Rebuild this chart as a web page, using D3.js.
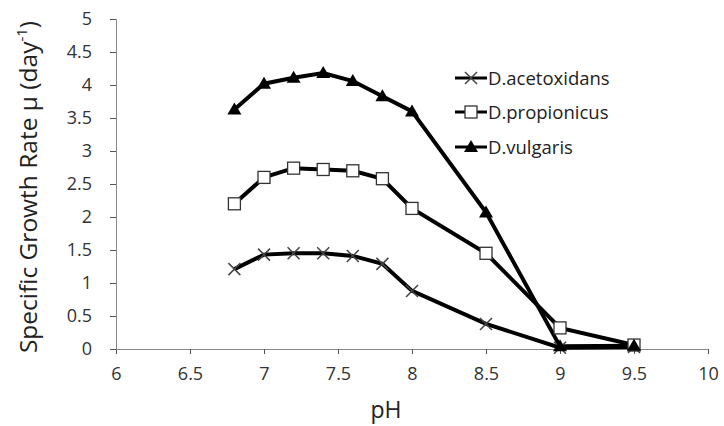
<!DOCTYPE html>
<html><head><meta charset="utf-8">
<script src="https://cdn.jsdelivr.net/npm/d3@7/dist/d3.min.js"></script>
<style>body{margin:0;background:#fff}</style>
</head><body><svg id="c" width="724" height="426"></svg>
<script>
const pH = [6.8, 7.0, 7.2, 7.4, 7.6, 7.8, 8.0, 8.5, 9.0, 9.5];
const acetoxidans = [1.21, 1.43, 1.45, 1.45, 1.41, 1.29, 0.88, 0.38, 0.02, 0.03];
const propionicus = [2.2, 2.6, 2.74, 2.72, 2.7, 2.58, 2.13, 1.45, 0.32, 0.06];
const vulgaris = [3.63, 4.02, 4.11, 4.18, 4.06, 3.83, 3.6, 2.07, 0.04, 0.05];
const seriesNames = ["D.acetoxidans", "D.propionicus", "D.vulgaris"];
const xTicks = [6, 6.5, 7, 7.5, 8, 8.5, 9, 9.5, 10];
const yTicks = [0, 0.5, 1, 1.5, 2, 2.5, 3, 3.5, 4, 4.5, 5];

const font = "'Open Sans', 'DejaVu Sans', sans-serif";
const svg = d3.select("#c");
const x = d3.scaleLinear().domain([6, 10]).range([116, 708]);
const y = d3.scaleLinear().domain([0, 5]).range([349, 19]);

const gx = svg.append("g").attr("transform", `translate(0,${y(0)})`)
  .call(d3.axisBottom(x).tickValues(xTicks).tickFormat(d3.format("")).tickSize(5).tickPadding(17));
const gy = svg.append("g").attr("transform", `translate(${x(6)},0)`)
  .call(d3.axisLeft(y).tickValues(yTicks).tickFormat(d3.format("")).tickSize(6).tickPadding(18));
[gx, gy].forEach(g => {
  g.select(".domain").attr("stroke", "#888").attr("stroke-width", 1);
  g.selectAll(".tick line").attr("stroke", "#555");
  g.selectAll("text").attr("font-family", font).attr("font-size", 18).attr("fill", "#333");
});
gx.selectAll("text").attr("dy", "0.5em");

svg.append("text").attr("x", 386).attr("y", 418).attr("text-anchor", "middle")
  .attr("font-family", font).attr("font-size", 23).attr("fill", "#222").text("pH");
const yl = svg.append("text").attr("transform", "translate(37,187) rotate(-90)")
  .attr("text-anchor", "middle").attr("font-family", font).attr("font-size", 24.5).attr("fill", "#222");
yl.append("tspan").text("Specific Growth Rate μ (day");
yl.append("tspan").attr("font-size", 15).attr("dy", -10).text("-1");
yl.append("tspan").attr("dy", 10).text(")");

const data = [acetoxidans, propionicus, vulgaris];
const line = d3.line().x((d, i) => x(pH[i])).y(d => y(d));

function marker(g, type, cx, cy) {
  if (type === 0) {
    g.append("path").attr("d", `M${cx-6},${cy-6}L${cx+6},${cy+6}M${cx-6},${cy+6}L${cx+6},${cy-6}`)
      .attr("stroke", "#444").attr("stroke-width", 1.5).attr("fill", "none");
  } else if (type === 1) {
    g.append("rect").attr("x", cx - 6).attr("y", cy - 6).attr("width", 12).attr("height", 12)
      .attr("fill", "#fff").attr("stroke", "#333").attr("stroke-width", 1.3);
  } else {
    g.append("path").attr("d", `M${cx},${cy-7}L${cx+7},${cy+5}L${cx-7},${cy+5}Z`).attr("fill", "#000");
  }
}

data.forEach((vals, s) => {
  svg.append("path").datum(vals).attr("d", line).attr("fill", "none")
    .attr("stroke", "#000").attr("stroke-width", 4);
});
data.forEach((vals, s) => {
  const g = svg.append("g");
  vals.forEach((v, i) => marker(g, s, x(pH[i]), y(v)));
});

const legY = [78, 112, 147];
seriesNames.forEach((n, s) => {
  const g = svg.append("g");
  g.append("line").attr("x1", 455).attr("x2", 487).attr("y1", legY[s]).attr("y2", legY[s])
    .attr("stroke", "#000").attr("stroke-width", 3);
  marker(g, s, 471, legY[s]);
  g.append("text").attr("x", 488).attr("y", legY[s] + 7).attr("font-family", font)
    .attr("font-size", 18.5).attr("fill", "#222").text(n);
});
</script></body></html>
